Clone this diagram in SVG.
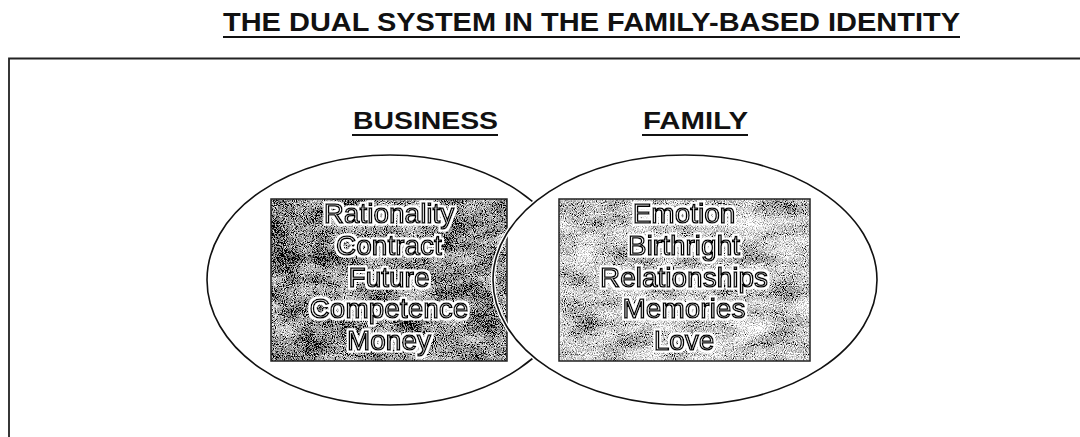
<svg xmlns="http://www.w3.org/2000/svg" width="1080" height="437" viewBox="0 0 1080 437">
  <defs>
    <style>
      .head { font-family: "Liberation Sans", Arial, sans-serif; font-weight: bold; fill: #111; }
      .item { font-family: "Liberation Sans", Arial, sans-serif; font-size: 28px; fill: #fff; stroke: #000; stroke-width: 1.5; text-anchor: middle; }
      .uline { stroke: #111; stroke-width: 2.2; }
      .oval { fill: none; stroke: #111; stroke-width: 1.6; }
      .box { stroke: #222; stroke-width: 1.5; }
    </style>
    <filter id="grainDark" x="0" y="0" width="100%" height="100%">
      <feTurbulence type="fractalNoise" baseFrequency="1.1" numOctaves="1" seed="4" result="n1"/>
      <feColorMatrix in="n1" type="matrix" values="1 0 0 0 0  1 0 0 0 0  1 0 0 0 0  0 0 0 0 1" result="g1"/>
      <feTurbulence type="fractalNoise" baseFrequency="0.03 0.06" numOctaves="2" seed="9" result="n2"/>
      <feColorMatrix in="n2" type="matrix" values="1 0 0 0 0  1 0 0 0 0  1 0 0 0 0  0 0 0 0 1" result="g2"/>
      <feComposite in="g1" in2="g2" operator="arithmetic" k1="0" k2="1" k3="0.4" k4="-0.2"/>
      <feColorMatrix type="matrix" values="2.6 0 0 0 -0.98  2.6 0 0 0 -0.98  2.6 0 0 0 -0.98  0 0 0 0 1"/>
    </filter>
    <filter id="grainLight" x="0" y="0" width="100%" height="100%">
      <feTurbulence type="fractalNoise" baseFrequency="1.1" numOctaves="1" seed="12" result="n1"/>
      <feColorMatrix in="n1" type="matrix" values="1 0 0 0 0  1 0 0 0 0  1 0 0 0 0  0 0 0 0 1" result="g1"/>
      <feTurbulence type="fractalNoise" baseFrequency="0.03 0.06" numOctaves="2" seed="21" result="n2"/>
      <feColorMatrix in="n2" type="matrix" values="1 0 0 0 0  1 0 0 0 0  1 0 0 0 0  0 0 0 0 1" result="g2"/>
      <feComposite in="g1" in2="g2" operator="arithmetic" k1="0" k2="1" k3="0.4" k4="-0.2"/>
      <feColorMatrix type="matrix" values="2.6 0 0 0 -0.7  2.6 0 0 0 -0.7  2.6 0 0 0 -0.7  0 0 0 0 1"/>
    </filter>
    <filter id="halo" x="-10%" y="-20%" width="120%" height="140%">
      <feMorphology in="SourceAlpha" operator="dilate" radius="1.5" result="d"/>
      <feFlood flood-color="#ffffff"/>
      <feComposite in2="d" operator="in" result="h"/>
      <feMerge>
        <feMergeNode in="h"/>
        <feMergeNode in="SourceGraphic"/>
      </feMerge>
    </filter>
    <mask id="outsideFamily" maskUnits="userSpaceOnUse" x="0" y="0" width="1080" height="437">
      <rect x="0" y="0" width="1080" height="437" fill="#fff"/>
      <ellipse cx="685" cy="280" rx="192" ry="125" fill="#000"/>
    </mask>
  </defs>

  <rect x="0" y="0" width="1080" height="437" fill="#fff"/>

  <g id="title">
    <text class="head" x="223" y="31" font-size="25" textLength="737" lengthAdjust="spacingAndGlyphs">THE DUAL SYSTEM IN THE FAMILY-BASED IDENTITY</text>
    <line class="uline" x1="223" y1="37" x2="960" y2="37"/>
  </g>

  <g id="frame">
    <path d="M9,437 V58.5 H1080" fill="none" stroke="#222" stroke-width="1.8"/>
  </g>

  <g id="connectors"></g>

  <g id="business">
    <text class="head" x="353" y="129" font-size="23" textLength="145" lengthAdjust="spacingAndGlyphs">BUSINESS</text>
    <line class="uline" x1="352" y1="135" x2="498" y2="135"/>
    <ellipse class="oval" cx="390" cy="280" rx="183" ry="125" mask="url(#outsideFamily)"/>
    <rect x="271" y="199" width="236" height="162" fill="#777" filter="url(#grainDark)"/>
    <rect class="box" x="271" y="199" width="236" height="162" fill="none"/>
    <g filter="url(#halo)">
      <text class="item" x="389" y="223">Rationality</text>
      <text class="item" x="389" y="255">Contract</text>
      <text class="item" x="389" y="287">Future</text>
      <text class="item" x="389" y="318">Competence</text>
      <text class="item" x="389" y="350">Money</text>
    </g>
  </g>

  <g id="family">
    <text class="head" x="643" y="129" font-size="23" textLength="105" lengthAdjust="spacingAndGlyphs">FAMILY</text>
    <line class="uline" x1="642" y1="135" x2="748" y2="135"/>
    <ellipse cx="685" cy="280" rx="192" ry="125" fill="none" stroke="#fff" stroke-width="4.5"/>
    <ellipse class="oval" cx="685" cy="280" rx="192" ry="125"/>
    <rect x="559" y="199" width="251" height="162" fill="#999" filter="url(#grainLight)"/>
    <rect class="box" x="559" y="199" width="251" height="162" fill="none"/>
    <g filter="url(#halo)">
      <text class="item" x="684" y="223">Emotion</text>
      <text class="item" x="684" y="255">Birthright</text>
      <text class="item" x="684" y="287">Relationships</text>
      <text class="item" x="684" y="318">Memories</text>
      <text class="item" x="684" y="350">Love</text>
    </g>
  </g>
</svg>
